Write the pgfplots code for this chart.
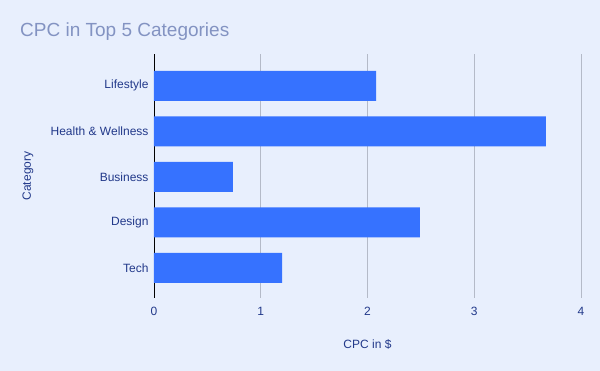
\documentclass[border=0pt]{standalone}
\usepackage{fontspec}
\setmainfont{Liberation Sans}
\usepackage{pgfplots}
\pgfplotsset{compat=1.18}
\definecolor{bgc}{RGB}{232,239,253}
\definecolor{barc}{RGB}{54,114,255}
\definecolor{titlec}{RGB}{131,147,194}
\definecolor{labc}{RGB}{34,57,138}
\definecolor{gridc}{RGB}{180,186,200}
\begin{document}
\begin{tikzpicture}
\fill[bgc] (0pt,0pt) rectangle (600pt,371pt);
\node[anchor=base west, inner sep=0pt, text=titlec, font=\fontsize{19}{22}\selectfont] at (20pt,334pt) {CPC in Top 5 Categories};
\begin{axis}[
  at={(154pt,73pt)}, anchor=south west,
  width=427pt, height=244pt, scale only axis,
  xbar, bar width=0.66,
  xmin=0, xmax=4, ymin=-0.66, ymax=4.70,
  axis lines*=left,
  x axis line style={draw=none},
  y axis line style={draw=black, line width=0.8pt},
  xtick={0,1,2,3,4},
  ytick={0,1,2,3,4},
  yticklabels={Tech,Design,Business,Health \& Wellness,Lifestyle},
  major tick length=0pt,
  xmajorgrids, major grid style={gridc, line width=0.8pt},
  /pgf/number format/assume math mode=true,
  ticklabel style={font=\fontsize{12}{14}\selectfont, text=labc},
  xticklabel style={yshift=-6pt},
  yticklabel style={xshift=-2pt},
  xlabel={CPC in \$}, ylabel={Category},
  label style={font=\fontsize{12}{14}\selectfont, text=labc},
  xlabel style={at={(axis description cs:0.5,-0.1885)}, anchor=center},
  ylabel style={at={(axis description cs:-0.295,0.5)}, anchor=center, rotate=0},
]
\addplot[fill=barc, draw=none] coordinates {(1.20,0) (2.49,1) (0.74,2) (3.67,3) (2.08,4)};
\end{axis}
\end{tikzpicture}
\end{document}
